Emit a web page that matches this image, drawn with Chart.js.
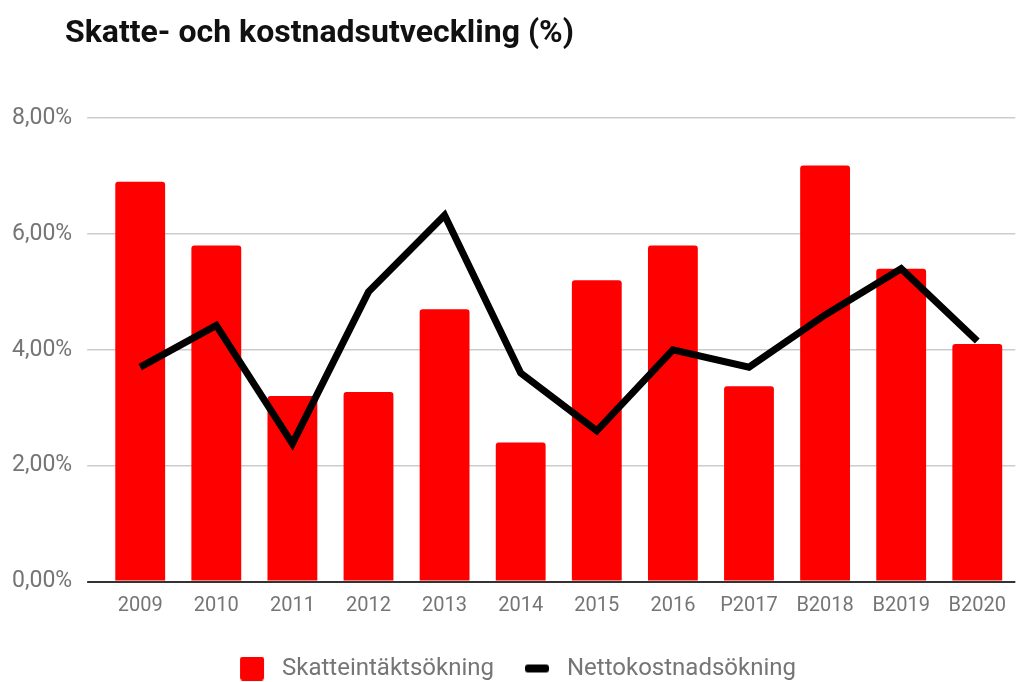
<!DOCTYPE html>
<html>
<head>
<meta charset="utf-8">
<script src="https://cdn.jsdelivr.net/npm/chart.js@4.4.1/dist/chart.umd.min.js"></script>
<style>
  html, body { margin: 0; padding: 0; background: #fff; }
  #wrap { position: relative; width: 1018px; height: 682px; }
  #title { position: absolute; left: 65px; top: 13px; font-family: Roboto, sans-serif; font-weight: 700; font-size: 32px; line-height: 36px; color: #111; white-space: nowrap; }
  canvas { position: absolute; left: 0; top: 0; }
</style>
</head>
<body>
<div id="wrap">
  <canvas id="c" width="1018" height="682"></canvas>
  <div id="title">Skatte- och kostnadsutveckling (%)</div>
</div>
<script>
const categories = ['2009','2010','2011','2012','2013','2014','2015','2016','P2017','B2018','B2019','B2020'];
const skatteintakt = [6.9, 5.8, 3.2, 3.27, 4.7, 2.4, 5.2, 5.8, 3.37, 7.18, 5.4, 4.1];
const nettokostnad = [3.7, 4.42, 2.38, 5.0, 6.32, 3.6, 2.6, 4.0, 3.7, 4.6, 5.4, 4.15];
const yTickValues = [0, 2, 4, 6, 8];
const yTickLabels = ['0,00%', '2,00%', '4,00%', '6,00%', '8,00%'];
const seriesNames = ['Skatteintäktsökning', 'Nettokostnadsökning'];

function makeMarker(color, h) {
  const L = 21, W = 24, R = 6, H = 24;
  const c = document.createElement('canvas');
  c.width = L + W + R; c.height = H;
  const x = c.getContext('2d');
  x.fillStyle = color;
  const y0 = (H - h) / 2;
  const r = Math.min(3, h / 2);
  x.beginPath();
  x.moveTo(L + r, y0);
  x.lineTo(L + W - r, y0);
  x.quadraticCurveTo(L + W, y0, L + W, y0 + r);
  x.lineTo(L + W, y0 + h - r);
  x.quadraticCurveTo(L + W, y0 + h, L + W - r, y0 + h);
  x.lineTo(L + r, y0 + h);
  x.quadraticCurveTo(L, y0 + h, L, y0 + h - r);
  x.lineTo(L, y0 + r);
  x.quadraticCurveTo(L, y0, L + r, y0);
  x.fill();
  return c;
}
const markers = [makeMarker('#ff0000', 24), makeMarker('#000000', 8)];

function build() {
  new Chart(document.getElementById('c'), {
    data: {
      labels: categories,
      datasets: [
        {
          type: 'bar',
          label: seriesNames[0],
          data: skatteintakt,
          backgroundColor: '#ff0000',
          borderRadius: 3,
          barPercentage: 0.655,
          categoryPercentage: 1,
          order: 2
        },
        {
          type: 'line',
          label: seriesNames[1],
          data: nettokostnad,
          borderColor: '#000000',
          backgroundColor: '#000000',
          borderWidth: 7,
          pointRadius: 0,
          tension: 0,
          borderJoinStyle: 'miter',
          order: 1
        }
      ]
    },
    options: {
      responsive: false,
      animation: false,
      layout: { padding: { top: 118, left: -3, right: 0, bottom: -8.5 } },
      scales: {
        x: {
          grid: { display: false, drawTicks: false },
          border: { display: false },
          ticks: { font: { family: 'Roboto', size: 20 }, color: '#757575', padding: 12, maxRotation: 0, autoSkip: false },
          afterFit: (s) => { s.height = 65; }
        },
        y: {
          min: 0,
          max: 8,
          afterBuildTicks: (s) => { s.ticks = yTickValues.map(v => ({ value: v })); },
          border: { display: false },
          grid: {
            color: (ctx) => ctx.tick && ctx.tick.value === 0 ? '#333333' : '#cccccc',
            lineWidth: (ctx) => ctx.tick && ctx.tick.value === 0 ? 2 : 1.5,
            tickLength: 15
          },
          ticks: {
            font: { family: 'Roboto', size: 23 },
            color: '#757575',
            padding: 15,
            callback: (v) => yTickLabels[yTickValues.indexOf(v)]
          }
        }
      },
      plugins: {
        tooltip: { enabled: false },
        legend: {
          position: 'bottom',
          labels: {
            font: { family: 'Roboto', size: 24 },
            color: '#757575',
            usePointStyle: true,
            pointStyleWidth: 51,
            padding: 10,
            sort: (a, b) => a.datasetIndex - b.datasetIndex,
            generateLabels: (chart) => {
              const items = Chart.defaults.plugins.legend.labels.generateLabels(chart);
              items.forEach((it) => { it.pointStyle = markers[it.datasetIndex]; it.fontColor = '#757575'; });
              return items;
            }
          }
        }
      }
    }
  });
}

Promise.all([
  document.fonts.load('20px Roboto'),
  document.fonts.load('23px Roboto'),
  document.fonts.load('24px Roboto'),
  document.fonts.load('bold 32px Roboto')
]).then(build, build);
</script>
</body>
</html>
